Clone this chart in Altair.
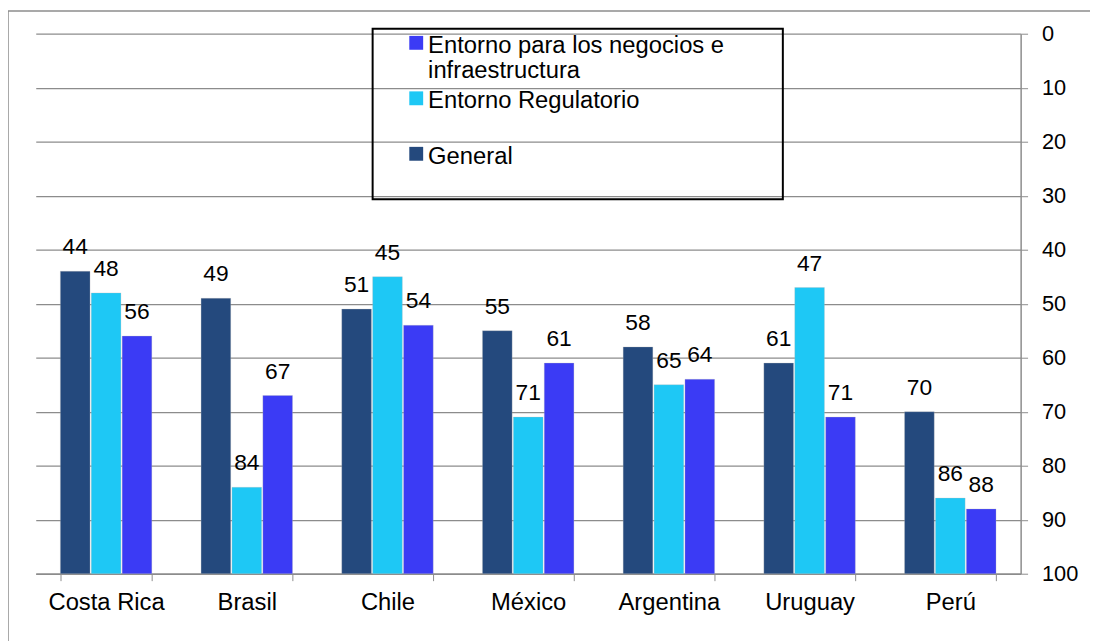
import altair as alt
import pandas as pd

countries = ["Costa Rica", "Brasil", "Chile", "México", "Argentina", "Uruguay", "Perú"]
series = ["General", "Entorno Regulatorio", "Entorno para los negocios e infraestructura"]
general = [44, 49, 51, 55, 58, 61, 70]
regulatorio = [48, 84, 45, 71, 65, 47, 86]
negocios = [56, 67, 54, 61, 64, 71, 88]
colors = ["#24497D", "#1EC8F5", "#3B3BF5"]
y_ticks = list(range(0, 101, 10))

rows = []
for i, c in enumerate(countries):
    for s, vals in zip(series, [general, regulatorio, negocios]):
        rows.append({"pais": c, "serie": s, "valor": vals[i]})
df = pd.DataFrame(rows)

FONT = "Liberation Sans"
GRAY = "#8C8C8C"
BLANK = "\u2800"

legend_expr = (
    "datum.label == 'Entorno para los negocios e infraestructura' ? "
    "['Entorno para los negocios e" + BLANK * 3 + "', 'infraestructura'] : [datum.label, '']"
)

x = alt.X(
    "pais:N", sort=countries,
    scale=alt.Scale(paddingInner=0.35, paddingOuter=0.175),
    axis=alt.Axis(title=None, labelAngle=0, labelFont=FONT, labelFontSize=24,
                  labelColor="black", labelPadding=10, tickBand="extent",
                  tickSize=7, tickColor=GRAY, domainColor=GRAY, domainWidth=1.5,
                  grid=False),
)
xoff = alt.XOffset("serie:N", sort=series, scale=alt.Scale(paddingInner=0.04))
y = alt.Y(
    "valor:Q",
    scale=alt.Scale(domain=[0, 100], reverse=True, nice=False),
    axis=alt.Axis(title=None, orient="right", values=y_ticks, labelFont=FONT,
                  labelFontSize=22, labelColor="black", labelPadding=14,
                  tickSize=7, tickColor=GRAY, domainColor=GRAY, domainWidth=1.5,
                  grid=True, gridColor=GRAY, gridWidth=1.2),
)

color = alt.Color(
    "serie:N",
    scale=alt.Scale(domain=series[::-1], range=colors[::-1]),
    legend=alt.Legend(
        title=None, orient="none", legendX=340, legendY=-5, direction="vertical",
        strokeColor="black", padding=5,
        symbolType="M-1,-1.4H1V0.6H-1Z", symbolSize=196, symbolOffset=27,
        symbolStrokeWidth=0,
        labelOffset=0, labelFont=FONT, labelFontSize=24, labelColor="black",
        labelLimit=600, labelBaseline="middle", rowPadding=6,
        labelExpr=legend_expr,
    ),
)

bars = alt.Chart(df).mark_bar(stroke="#BBBBBB", strokeWidth=0.5, strokeOpacity=0.6).encode(
    x=x, xOffset=xoff, y=y, y2=alt.datum(100), color=color
)

labels = alt.Chart(df).mark_text(
    baseline="alphabetic", dy=-17, font=FONT, fontSize=23, color="black"
).encode(x=x, xOffset=xoff, y=y, text="valor:Q")

frame_df = pd.DataFrame({"a": [0]})
frame_top = alt.Chart(frame_df).mark_rule(color=GRAY, strokeWidth=1.5).encode(
    x=alt.value(-28), x2=alt.value(1100), y=alt.value(-23)
)
frame_left = alt.Chart(frame_df).mark_rule(color=GRAY, strokeWidth=1.5).encode(
    x=alt.value(-28), y=alt.value(-23), y2=alt.value(700)
)

chart = alt.layer(bars, labels, frame_top, frame_left).properties(
    width=994, height=545,
    autosize=alt.AutoSizeParams(type="none"),
    padding={"left": 28, "top": 23, "right": 70, "bottom": 70},
    background="white",
).configure_view(stroke=None).configure_legend(strokeWidth=2)

chart.save("out.html", embed_options={"renderer": "svg", "actions": False})
